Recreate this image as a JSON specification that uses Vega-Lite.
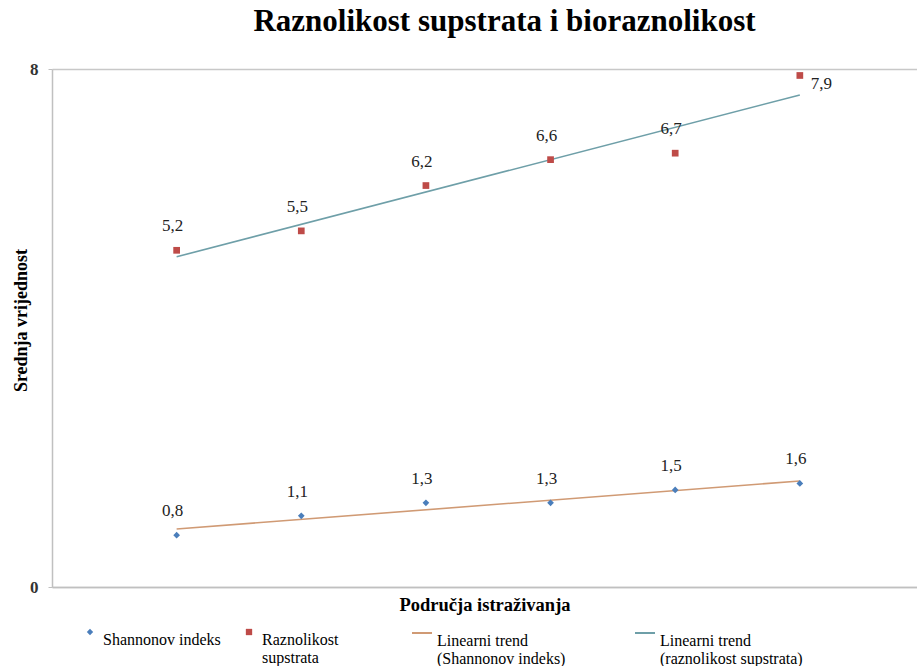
{
  "$schema": "https://vega.github.io/schema/vega-lite/v6.json",
  "width": 865,
  "height": 518,
  "autosize": "none",
  "padding": {"left": 52, "top": 69, "right": 0, "bottom": 79},
  "background": "#ffffff",
  "title": {
    "text": "Raznolikost supstrata i bioraznolikost",
    "fontSize": 31,
    "fontWeight": "bold",
    "color": "#000000",
    "anchor": "middle",
    "frame": "group",
    "baseline": "alphabetic",
    "offset": -2,
    "dx": 20
  },
  "config": {
    "font": "Liberation Serif",
    "view": {"stroke": null},
    "text": {"font": "Liberation Serif"},
    "axis": {"labelFont": "Liberation Serif", "titleFont": "Liberation Serif"},
    "legend": {"labelFont": "Liberation Serif"},
    "locale": {"number": {"decimal": ",", "thousands": ".", "grouping": [3], "currency": ["", " €"]}}
  },
  "data": {
    "values": [
      {"x": 1, "y": 0.8, "series": "Shannonov indeks", "trend": "Linearni trend (Shannonov indeks)"},
      {"x": 2, "y": 1.1, "series": "Shannonov indeks", "trend": "Linearni trend (Shannonov indeks)"},
      {"x": 3, "y": 1.3, "series": "Shannonov indeks", "trend": "Linearni trend (Shannonov indeks)"},
      {"x": 4, "y": 1.3, "series": "Shannonov indeks", "trend": "Linearni trend (Shannonov indeks)"},
      {"x": 5, "y": 1.5, "series": "Shannonov indeks", "trend": "Linearni trend (Shannonov indeks)"},
      {"x": 6, "y": 1.6, "series": "Shannonov indeks", "trend": "Linearni trend (Shannonov indeks)"},
      {"x": 1, "y": 5.2, "series": "Raznolikost supstrata", "trend": "Linearni trend (raznolikost supstrata)"},
      {"x": 2, "y": 5.5, "series": "Raznolikost supstrata", "trend": "Linearni trend (raznolikost supstrata)"},
      {"x": 3, "y": 6.2, "series": "Raznolikost supstrata", "trend": "Linearni trend (raznolikost supstrata)"},
      {"x": 4, "y": 6.6, "series": "Raznolikost supstrata", "trend": "Linearni trend (raznolikost supstrata)"},
      {"x": 5, "y": 6.7, "series": "Raznolikost supstrata", "trend": "Linearni trend (raznolikost supstrata)"},
      {"x": 6, "y": 7.9, "series": "Raznolikost supstrata", "trend": "Linearni trend (raznolikost supstrata)"}
    ]
  },
  "encoding": {
    "x": {
      "field": "x",
      "type": "quantitative",
      "scale": {"domain": [0, 6.94], "nice": false, "zero": false},
      "axis": {
        "title": "Područja istraživanja",
        "labels": false,
        "ticks": false,
        "grid": false,
        "domainColor": "#c0c0c0",
        "domainWidth": 1.5,
        "titleFontSize": 18.5,
        "titleFontWeight": "bold",
        "titleColor": "#000000",
        "titlePadding": 8
      }
    },
    "y": {
      "field": "y",
      "type": "quantitative",
      "scale": {"domain": [0, 8], "nice": false},
      "axis": {
        "title": "Srednja vrijednost",
        "values": [0, 8],
        "grid": true,
        "gridColor": "#c8c8c8",
        "gridWidth": 1.5,
        "domainColor": "#c0c0c0",
        "domainWidth": 1.5,
        "tickColor": "#c0c0c0",
        "tickSize": 4,
        "labelPadding": 10,
        "labelFontSize": 17,
        "labelFontWeight": "bold",
        "labelColor": "#333333",
        "titleFontSize": 18,
        "titleFontWeight": "bold",
        "titleColor": "#000000",
        "titlePadding": -1,
        "titleY": 251
      }
    }
  },
  "layer": [
    {
      "transform": [{"regression": "y", "on": "x", "groupby": ["trend"]}],
      "mark": {"type": "line", "strokeWidth": 1.6},
      "encoding": {
        "stroke": {
          "field": "trend",
          "type": "nominal",
          "scale": {
            "domain": ["Linearni trend (Shannonov indeks)", "Linearni trend (raznolikost supstrata)"],
            "range": ["#D09A74", "#6E9FA8"]
          },
          "legend": {
            "title": null,
            "orient": "none",
            "direction": "horizontal",
            "legendX": 359,
            "legendY": 553,
            "columnPadding": 65,
            "symbolType": "stroke",
            "symbolSize": 400,
            "symbolStrokeWidth": 2,
            "labelOffset": 4,
            "labelFontSize": 16,
            "labelColor": "#000000",
            "labelLimit": 400,
            "labelBaseline": "top",
            "labelExpr": "datum.value == 'Linearni trend (Shannonov indeks)' ? ['Linearni  trend', '(Shannonov indeks)'] : ['Linearni trend', '(raznolikost supstrata)']"
          }
        }
      }
    },
    {
      "mark": {"type": "point", "filled": true, "opacity": 1, "size": 45},
      "encoding": {
        "color": {
          "field": "series",
          "type": "nominal",
          "scale": {
            "domain": ["Shannonov indeks", "Raznolikost supstrata"],
            "range": ["#4A7EBB", "#BE4B48"]
          },
          "legend": {
            "title": null,
            "orient": "none",
            "direction": "horizontal",
            "legendX": 30,
            "legendY": 555,
            "columnPadding": 20,
            "labelFontSize": 16,
            "labelColor": "#000000",
            "labelLimit": 400,
            "labelOffset": 5,
            "labelBaseline": "top",
            "symbolSize": 40,
            "labelExpr": "datum.value == 'Raznolikost supstrata' ? ['Raznolikost', 'supstrata'] : [datum.value, ' ']",
            "encode": {
              "labels": {
                "font": {"condition": {"test": "datum.value == 'Raznolikost supstrata'", "value": "Liberation Sans"}, "value": "Liberation Serif"},
                "fontSize": {"condition": {"test": "datum.value == 'Raznolikost supstrata'", "value": 15}, "value": 16}
              }
            }
          }
        },
        "shape": {
          "field": "series",
          "type": "nominal",
          "scale": {
            "domain": ["Shannonov indeks", "Raznolikost supstrata"],
            "range": ["diamond", "square"]
          }
        }
      }
    },
    {
      "transform": [{"filter": "!(datum.series == 'Raznolikost supstrata' && datum.x == 6)"}],
      "mark": {"type": "text", "font": "Liberation Serif", "fontSize": 17, "color": "#222222", "dy": -24, "dx": -4},
      "encoding": {"text": {"field": "y", "type": "quantitative", "format": ".1f"}}
    },
    {
      "transform": [{"filter": "datum.series == 'Raznolikost supstrata' && datum.x == 6"}],
      "mark": {"type": "text", "font": "Liberation Serif", "fontSize": 17, "color": "#222222", "dy": 9, "dx": 11, "align": "left"},
      "encoding": {"text": {"field": "y", "type": "quantitative", "format": ".1f"}}
    }
  ]
}
